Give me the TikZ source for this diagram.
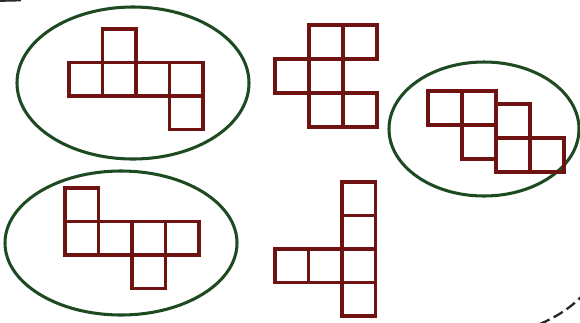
\documentclass[tikz,border=0pt]{standalone}
\usepackage{xcolor}
\usepackage{tikz}
\definecolor{netred}  {HTML}{6E1212}
\definecolor{setgreen}{HTML}{1E4A22}
\definecolor{fragcol} {HTML}{2A2A2A}

\begin{document}
\begin{tikzpicture}[
    x=0.03cm, y=-0.03cm,
    cell/.style={draw=netred, line width=2.9pt, line join=miter},
    set/.style={draw=setgreen, line width=2.6pt},
    frag/.style={draw=fragcol, line width=2pt},
  ]
    \useasboundingbox (0,0) rectangle (580,322);

    % Sets drawn round three of the nets
    \draw[set] (133,83)  ellipse [x radius=116, y radius=76];
    \draw[set] (484,129) ellipse [x radius=95,  y radius=67];
    \draw[set] (121,243) ellipse [x radius=116, y radius=72];

    % Net 1, inside the top-left set
    \def\cs{33.5}
    \foreach \c/\r in {1/0, 0/1, 1/1, 2/1, 3/1, 3/2}
      \draw[cell] (69+\c*\cs, 29+\r*\cs) rectangle ++(\cs,\cs);

    % Net 2, top middle
    \def\cs{34}
    \foreach \c/\r in {1/0, 2/0, 0/1, 1/1, 1/2, 2/2}
      \draw[cell] (275+\c*\cs, 25+\r*\cs) rectangle ++(\cs,\cs);

    % Net 3, inside the right set (staggered columns)
    \foreach \x/\y in {428/91, 462/91, 462/125, 496/104, 496/138, 530/138}
      \draw[cell] (\x,\y) rectangle ++(\cs,\cs);

    % Net 4, inside the bottom-left set
    \def\cs{33.5}
    \foreach \c/\r in {0/0, 0/1, 1/1, 2/1, 3/1, 2/2}
      \draw[cell] (65+\c*\cs, 188+\r*\cs) rectangle ++(\cs,\cs);

    % Net 5, bottom middle
    \foreach \c/\r in {2/0, 2/1, 2/2, 2/3, 0/2, 1/2}
      \draw[cell] (275+\c*\cs, 182+\r*\cs) rectangle ++(\cs,\cs);

    % cut-off pieces at the edges
    \draw[frag, line width=1.5pt] (0,1) -- (21,0.5);
    \draw[frag, dashed, dash pattern=on 9pt off 4pt]
      (540,324) .. controls (558,316) and (570,308) .. (582,296);
  \end{tikzpicture}
\end{document}
